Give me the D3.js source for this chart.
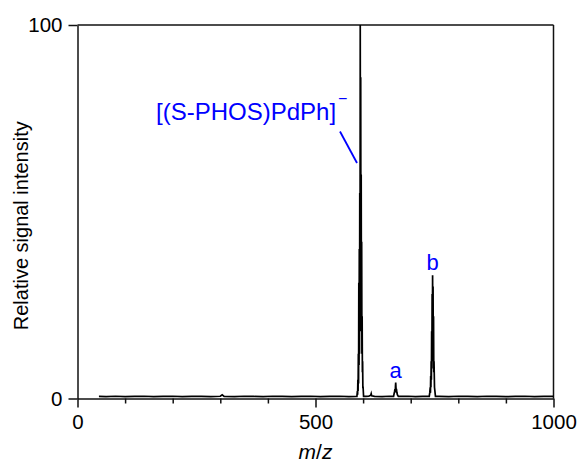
<!DOCTYPE html>
<html>
<head>
<meta charset="utf-8">
<script src="https://cdn.jsdelivr.net/npm/d3@7/dist/d3.min.js"></script>
<style>
  html, body { margin: 0; padding: 0; background: #fff; }
  text { font-family: "Liberation Sans", Arial, sans-serif; }
</style>
</head>
<body>
<svg id="chart" width="579" height="463"></svg>
<script>
// ---- Data ----
const xTicksMajor = [0, 500, 1000];
const xTicksMinor = [100, 200, 300, 400, 600, 700, 800, 900];
const yTicks = [0, 100];

// baseline noise (m/z, relative intensity)
const noiseMz  = [45, 60, 80, 100, 120, 140, 160, 180, 200, 220, 240, 260, 280, 300, 304, 308, 330, 350, 370, 390, 410, 430, 450, 470, 490, 510, 530, 550, 570, 586];
const noiseInt = [0.55, 0.5, 0.6, 0.5, 0.55, 0.6, 0.5, 0.55, 0.6, 0.5, 0.55, 0.55, 0.5, 0.6, 1.0, 0.55, 0.5, 0.6, 0.55, 0.5, 0.6, 0.55, 0.5, 0.55, 0.6, 0.5, 0.55, 0.6, 0.5, 0.55];

// [(S-PHOS)PdPh]- isotope cluster
const mainMz  = [587, 588, 588.5, 589, 589.5, 590, 590.5, 591, 591.5, 592, 592.5, 593, 593.5, 594, 594.5, 595, 595.5, 596, 596.5, 597, 597.5, 598, 598.5, 599, 599.5, 600, 601];
const mainInt = [0.55, 2, 1, 5, 2, 12, 4, 31, 9, 40, 12, 55, 18, 100, 30, 86, 26, 60, 18, 42, 12, 22, 7, 10, 3, 3, 0.55];

// between main and a
const midMz  = [606, 612, 616, 617, 618, 624, 640, 655, 662];
const midInt = [0.55, 0.6, 0.9, 1.3, 0.7, 0.55, 0.5, 0.6, 0.55];

// peak a
const aMz  = [664, 665, 666, 667, 667.5, 668, 668.5, 669, 669.5, 670, 671, 672, 674];
const aInt = [0.55, 1.2, 1.8, 2.5, 1.6, 3.2, 4.3, 3.0, 2.2, 2.6, 1.6, 1.0, 0.55];

// between a and b
const mid2Mz  = [680, 695, 710, 725, 735];
const mid2Int = [0.55, 0.6, 0.5, 0.55, 0.6];

// peak b
const bMz  = [739, 740, 741, 741.5, 742, 742.5, 743, 743.5, 744, 744.5, 745, 745.5, 746, 746.5, 747, 747.5, 748, 748.5, 749, 750, 752];
const bInt = [0.55, 1.5, 3, 1.5, 6, 3, 10, 5, 18, 8, 28, 12, 33, 14, 30, 10, 22, 7, 10, 3, 0.55];

// tail
const tailMz  = [760, 780, 800, 820, 840, 860, 880, 900, 920, 940, 960, 980, 1000];
const tailInt = [0.55, 0.5, 0.6, 0.55, 0.5, 0.6, 0.55, 0.5, 0.55, 0.6, 0.5, 0.55, 0.55];

// ---- Chart ----
const svg = d3.select("#chart");
const x = d3.scaleLinear().domain([0, 1000]).range([77.5, 553.5]);
const y = d3.scaleLinear().domain([0, 100]).range([398.5, 25]);
const axisColor = "#111";

function zip(a, b) { return a.map((v, i) => [v, b[i]]); }
const spectrum = [].concat(
  zip(noiseMz, noiseInt), zip(mainMz, mainInt), zip(midMz, midInt),
  zip(aMz, aInt), zip(mid2Mz, mid2Int), zip(bMz, bInt), zip(tailMz, tailInt)
).sort((p, q) => p[0] - q[0]);

// frame (top, right)
svg.append("line").attr("x1", x(0)).attr("x2", x(1000)).attr("y1", y(100)).attr("y2", y(100))
  .attr("stroke", axisColor).attr("stroke-width", 1.5);
svg.append("line").attr("x1", x(1000)).attr("x2", x(1000)).attr("y1", y(100)).attr("y2", y(0))
  .attr("stroke", axisColor).attr("stroke-width", 1.5);

// spectrum line
svg.append("path")
  .datum(spectrum)
  .attr("fill", "none")
  .attr("stroke", "#000")
  .attr("stroke-width", 1.7)
  .attr("stroke-linejoin", "miter")
  .attr("d", d3.line().x(d => x(d[0])).y(d => y(d[1])));

// x axis major
const gx = svg.append("g").attr("transform", `translate(0,${y(0)})`)
  .call(d3.axisBottom(x).tickValues(xTicksMajor).tickSize(9).tickPadding(7).tickSizeOuter(0).tickFormat(d3.format("d")));
// x axis minor
const gxm = svg.append("g").attr("transform", `translate(0,${y(0)})`)
  .call(d3.axisBottom(x).tickValues(xTicksMinor).tickSize(5).tickSizeOuter(0).tickFormat(""));
gxm.select(".domain").remove();

// y axis
const gy = svg.append("g").attr("transform", `translate(${x(0)},0)`)
  .call(d3.axisLeft(y).tickValues(yTicks).tickSize(9).tickPadding(6).tickSizeOuter(0).tickFormat(d3.format("d")));

[gx, gxm, gy].forEach(g => {
  g.selectAll(".domain").attr("stroke", axisColor).attr("stroke-width", 1.5);
  g.selectAll(".tick line").attr("stroke", axisColor).attr("stroke-width", 1.5);
  g.selectAll(".tick text").attr("fill", "#000").style("font-size", "20.5px")
    .style("font-family", '"Liberation Sans", Arial, sans-serif');
});

// axis titles
const xt = svg.append("text").attr("x", (x(0) + x(1000)) / 2).attr("y", 459)
  .attr("text-anchor", "middle").style("font-size", "21px").attr("fill", "#000");
xt.append("tspan").style("font-style", "italic").text("m");
xt.append("tspan").text("/");
xt.append("tspan").style("font-style", "italic").text("z");

svg.append("text").attr("transform", `translate(28,${(y(0) + y(100)) / 2 + 14}) rotate(-90)`)
  .attr("text-anchor", "middle").style("font-size", "20px").attr("fill", "#000")
  .text("Relative signal intensity");

// annotations
const blue = "#0000ff";
const lab = svg.append("text").attr("x", 156).attr("y", 120).style("font-size", "24px").attr("fill", blue);
lab.append("tspan").text("[(S-PHOS)PdPh]");
lab.append("tspan").attr("dx", 2).attr("dy", -16).style("font-size", "16px").text("\u2212");

svg.append("line").attr("x1", 340).attr("y1", 131.5).attr("x2", 357).attr("y2", 163)
  .attr("stroke", blue).attr("stroke-width", 1.8);

svg.append("text").attr("x", x(668.5)).attr("y", y(4.3) - 4).attr("text-anchor", "middle")
  .style("font-size", "22px").attr("fill", blue).text("a");
svg.append("text").attr("x", x(746)).attr("y", y(33) - 5).attr("text-anchor", "middle")
  .style("font-size", "22px").attr("fill", blue).text("b");
</script>
</body>
</html>
